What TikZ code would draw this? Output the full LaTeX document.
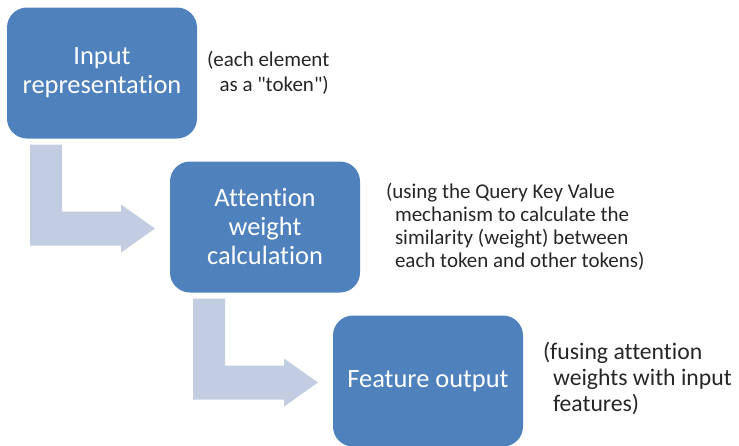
\documentclass[tikz,border=0pt]{standalone}
\usepackage{fontspec}
\setmainfont{Carlito}[Ligatures={NoCommon,TeXOff}]
\usetikzlibrary{positioning}
\definecolor{boxblue}{HTML}{4F81BD}
\definecolor{arrowblue}{HTML}{C3CDE1}
\definecolor{notegray}{HTML}{262626}
\tikzset{
  stage/.style={fill=boxblue, rounded corners=20pt, minimum width=190pt,
    minimum height=131pt, inner sep=4pt, outer sep=0pt, text=white,
    align=center, font=\fontsize{26.4}{29}\selectfont},
  note/.style={inner sep=0pt, outer sep=0pt, align=left, text=notegray},
  bentarrow/.style={fill=arrowblue},
}
\begin{document}
\begin{tikzpicture}[x=1pt,y=1pt]
  \useasboundingbox (0,0) rectangle (739,-445);
  \node (input) [stage] at (102,-73) {Input\\representation};
  \node (attn) [stage, below right=23pt and -27pt of input] {Attention\\weight\\calculation};
  \node (output) [stage, below right=23pt and -27pt of attn] {Feature output};
  \node (note1) [note, right=10pt of input, font=\fontsize{21}{25}\selectfont]
    {(each element\\\hspace*{12.5pt}as a "token")};
  \node (note2) [note, right=26pt of attn, font=\fontsize{21}{23}\selectfont]
    {(using the Query Key Value\\\hspace*{9pt}mechanism to calculate the\\
     \hspace*{9pt}similarity (weight) between\\\hspace*{9pt}each token and other tokens)};
  \node (note3) [note, right=20pt of output, yshift=3pt, font=\fontsize{23.7}{26}\selectfont]
    {(fusing attention\\\hspace*{10pt}weights with input\\\hspace*{10pt}features)};
  \path[bentarrow] ([shift={(23,-6)}]input.south west) -- ++(32,0) -- ++(0,-67)
    -- ++(59,0) -- ++(0,7) -- ++(34,-24) -- ++(-34,-24) -- ++(0,7) -- ++(-91,0) -- cycle;
  \path[bentarrow] ([shift={(23,-6)}]attn.south west) -- ++(32,0) -- ++(0,-67)
    -- ++(59,0) -- ++(0,7) -- ++(34,-24) -- ++(-34,-24) -- ++(0,7) -- ++(-91,0) -- cycle;
\end{tikzpicture}
\end{document}
